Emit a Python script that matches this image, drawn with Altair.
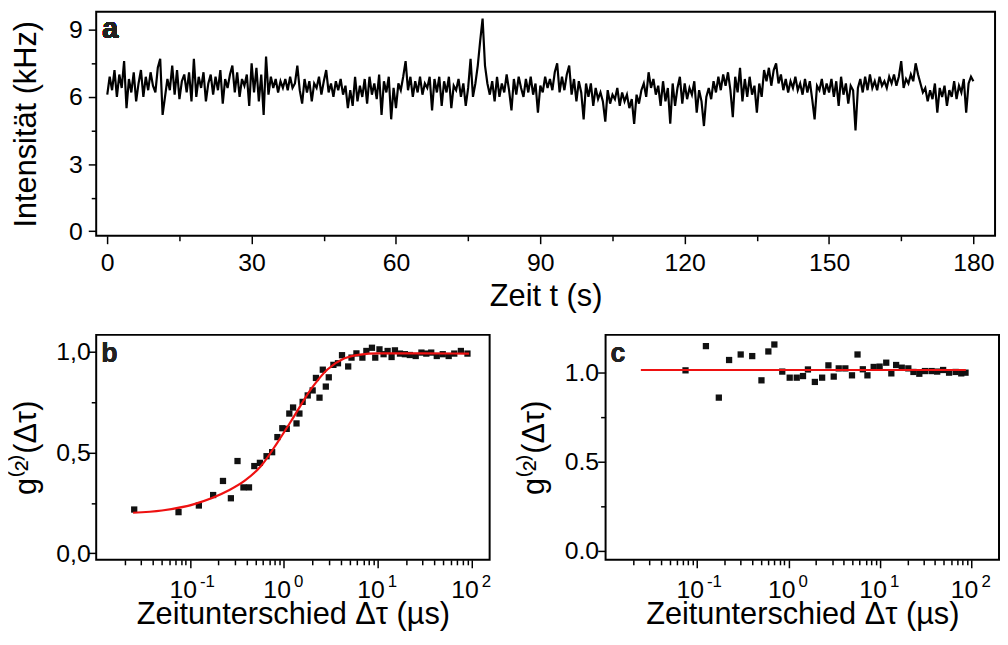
import altair as alt
import pandas as pd

FONT = "Liberation Sans"

# ---------------- Panel a: intensity trace (0.5 s bins) ----------------
intensity = [
    6.1, 6.9, 6.3, 7.2, 6.0, 7.0, 6.4, 7.6, 5.5, 6.8, 6.2, 7.1, 5.8, 6.6, 7.2, 6.0, 6.9, 6.3, 7.1, 6.5,
    6.2, 7.3, 7.7, 5.2, 6.0, 6.8, 6.3, 7.4, 6.1, 7.2, 5.9, 6.7, 7.0, 6.2, 7.1, 5.8, 7.7, 6.0, 6.9, 6.4,
    7.1, 5.8, 6.6, 7.0, 6.1, 6.9, 6.3, 7.2, 5.7, 6.8, 6.4, 7.0, 7.4, 6.2, 7.1, 6.0, 6.8, 6.5, 7.0, 5.6,
    7.5, 6.2, 7.3, 5.8, 7.0, 5.2, 7.8, 6.1, 6.9, 6.4, 6.8, 6.2, 6.7, 6.4, 6.8, 6.3, 6.9, 6.4, 6.6, 7.4,
    6.3, 5.7, 6.8, 6.2, 6.7, 5.8, 6.6, 6.4, 6.9, 6.1, 6.7, 7.2, 6.2, 6.6, 6.0, 6.7, 6.3, 6.8, 6.1, 6.5,
    5.5, 6.3, 5.6, 6.9, 5.8, 6.5, 6.0, 6.8, 5.7, 6.9, 6.1, 6.6, 5.9, 7.0, 5.2, 6.7, 6.2, 6.9, 5.0, 6.4,
    5.5, 6.6, 6.3, 6.9, 7.6, 6.3, 6.9, 6.0, 6.7, 6.2, 6.9, 6.1, 6.6, 6.4, 6.9, 5.4, 6.8, 6.2, 6.9, 5.6,
    6.7, 6.2, 6.9, 5.5, 6.5, 6.3, 6.8, 6.0, 6.6, 5.6, 6.4, 7.7, 6.0, 6.6, 7.4, 8.5, 9.5, 7.4, 6.6, 6.1,
    6.7, 5.8, 6.9, 6.0, 6.6, 6.2, 7.0, 6.3, 5.4, 6.8, 6.1, 6.9, 6.4, 6.0, 6.8, 6.2, 6.9, 6.1, 6.6, 5.3,
    6.5, 6.2, 6.9, 6.4, 6.8, 6.3, 7.1, 7.5, 6.2, 6.9, 6.3, 7.0, 7.4, 6.1, 6.8, 5.8, 6.7, 6.2, 5.0, 6.6,
    6.0, 6.6, 5.6, 6.4, 5.9, 6.2, 5.8, 4.9, 6.3, 5.7, 6.1, 5.9, 6.4, 5.6, 6.2, 5.8, 6.1, 5.5, 5.9, 4.8,
    6.1, 5.7, 6.3, 6.6, 6.0, 7.1, 6.4, 6.8, 6.1, 6.5, 5.6, 6.7, 5.8, 6.4, 4.8, 6.6, 5.6, 6.4, 6.9, 5.7,
    6.6, 5.9, 6.4, 6.1, 6.7, 5.3, 6.3, 5.8, 4.7, 6.0, 6.4, 5.9, 6.7, 6.2, 6.9, 6.3, 7.0, 6.5, 7.1, 6.3,
    5.1, 6.9, 6.2, 7.3, 5.8, 6.8, 6.0, 6.9, 6.1, 6.5, 5.3, 6.6, 6.0, 7.2, 6.7, 7.3, 6.5, 7.2, 7.5, 6.6,
    7.0, 6.3, 6.8, 6.2, 6.7, 6.4, 6.9, 6.3, 6.6, 6.1, 6.8, 6.2, 6.7, 5.9, 5.0, 6.5, 6.3, 6.8, 6.1, 6.6,
    6.2, 6.8, 6.0, 6.7, 5.6, 6.9, 6.1, 6.6, 5.7, 6.5, 6.3, 4.5, 6.4, 6.8, 6.2, 6.9, 6.3, 7.0, 6.4, 6.7,
    6.3, 6.9, 6.5, 6.7, 6.4, 6.9, 6.6, 7.0, 6.5, 6.9, 7.6, 6.4, 6.8, 6.6, 7.0, 6.7, 7.5, 7.0, 6.6, 6.2,
    6.4, 5.8, 6.3, 5.9, 6.6, 5.3, 6.4, 6.0, 6.5, 5.6, 6.3, 6.0, 6.7, 5.9, 6.5, 6.2, 6.8, 5.3, 6.6, 6.9,
    6.7,
]
time_s = [i * 0.5 for i in range(len(intensity))]

a_x_ticks = [0, 15, 30, 45, 60, 75, 90, 105, 120, 135, 150, 165, 180]
a_y_ticks = [0, 1.5, 3, 4.5, 6, 7.5, 9]

# ---------------- Panel b: g2 with antibunching ----------------
b_tau = [0.0254, 0.0753, 0.124, 0.176, 0.224, 0.272, 0.320, 0.370, 0.424, 0.483,
         0.554, 0.652, 0.748, 0.851, 0.960, 1.07, 1.14, 1.25, 1.36, 1.46,
         1.58, 1.79, 2.02, 2.19, 2.39, 2.59, 2.79, 3.0, 3.36, 3.76,
         4.15, 4.83, 5.24, 5.91, 6.84, 7.54, 8.65, 9.38, 10.4, 11.5,
         12.7, 14.0, 15.2, 17.2, 19.4, 21.9, 25.3, 29.1, 32.8, 37.0,
         42.4, 49.1, 56.8, 65.1, 76.6, 90.0]
b_g2 = [0.217, 0.204, 0.237, 0.289, 0.359, 0.273, 0.458, 0.327, 0.327, 0.433,
        0.449, 0.482, 0.502, 0.577, 0.621, 0.618, 0.694, 0.724, 0.645, 0.694,
        0.752, 0.784, 0.809, 0.871, 0.773, 0.912, 0.828, 0.874, 0.936, 0.944,
        0.984, 0.928, 0.972, 0.993, 0.972, 1.005, 1.021, 0.972, 1.013, 0.989,
        1.005, 0.975, 1.008, 0.992, 0.989, 0.985, 0.980, 0.997, 0.992, 0.997,
        0.980, 0.989, 0.980, 0.992, 1.005, 0.992]
b_fit_tau = [0.0247, 0.0501, 0.113, 0.253, 0.379, 0.569, 0.851, 1.28, 1.94, 2.90,
             4.36, 6.52, 9.75, 31.6, 93.8]
b_fit_g2 = [0.201, 0.212, 0.245, 0.310, 0.359, 0.433, 0.550, 0.680, 0.815, 0.913,
            0.967, 0.987, 0.993, 0.993, 0.992]

# ---------------- Panel c: g2 without antibunching ----------------
c_tau = [0.0748, 0.125, 0.173, 0.224, 0.300, 0.401, 0.506, 0.602, 0.700, 0.854,
         1.03, 1.23, 1.44, 1.63, 1.94, 2.33, 2.73, 3.12, 3.54, 4.18,
         4.94, 5.68, 6.49, 7.29, 8.53, 9.91, 11.7, 13.3, 15.0, 17.3,
         20.4, 23.2, 26.9, 31.0, 36.6, 42.2, 49.0, 56.9, 67.2, 77.3, 86.1]
c_g2 = [1.013, 1.149, 0.860, 1.071, 1.102, 1.093, 0.957, 1.119, 1.158, 1.006,
        0.972, 0.972, 0.981, 1.018, 0.948, 0.972, 1.041, 0.978, 1.024, 1.024,
        0.985, 1.102, 1.019, 0.985, 1.032, 1.034, 1.056, 0.996, 1.043, 1.028,
        1.024, 1.004, 0.994, 1.009, 1.009, 1.006, 1.015, 1.000, 1.004, 0.996, 1.000]
c_fit_tau = [0.0243, 86.8]
c_fit_g2 = [1.015, 1.015]

log_ticks = [0.02, 0.03, 0.04, 0.05, 0.06, 0.07, 0.08, 0.09,
             0.1, 0.2, 0.3, 0.4, 0.5, 0.6, 0.7, 0.8, 0.9,
             1, 2, 3, 4, 5, 6, 7, 8, 9,
             10, 20, 30, 40, 50, 60, 70, 80, 90, 100]
decade_values = [0.1, 1, 10, 100]
decade_exponents = ["-1", "0", "1", "2"]
g2_ticks = [0, 0.25, 0.5, 0.75, 1.0]

# ---------------- data frames ----------------
df_a = pd.DataFrame({"t": time_s, "I": intensity})
df_b = pd.DataFrame({"tau": b_tau, "g2": b_g2})
df_bf = pd.DataFrame({"tau": b_fit_tau, "g2": b_fit_g2})
df_c = pd.DataFrame({"tau": c_tau, "g2": c_g2})
df_cf = pd.DataFrame({"tau": c_fit_tau, "g2": c_fit_g2})
df_dec = pd.DataFrame({"tau": decade_values, "exp": decade_exponents})


def tick_size(test):
    return {"condition": {"test": test, "value": 8}, "value": 5}


LOG_MAJOR = "abs(log(datum.value)/LN10 - round(log(datum.value)/LN10)) < 0.000001"
HALF_MAJOR = "abs(datum.value*2 - round(datum.value*2)) < 0.000001"

W_A, H_A = 907, 226
W_B, H_B = 397, 227

AX = dict(grid=False, domain=False, tickColor="black", tickWidth=1.5,
          labelFont=FONT, titleFont=FONT, labelColor="black", titleColor="black",
          titleFontWeight="normal", labelFontWeight="normal")

# ---------------- panel a ----------------
xa = alt.X("t:Q", scale=alt.Scale(domain=[-2.3, 184.5], nice=False, zero=False),
           axis=alt.Axis(values=a_x_ticks, title="Zeit t (s)",
                         labelExpr="datum.value % 30 === 0 ? datum.label : ''",
                         tickSize=tick_size("datum.value % 30 === 0"),
                         labelFontSize=25, labelPadding=7, titleFontSize=31,
                         titlePadding=6, **AX))
ya = alt.Y("I:Q", scale=alt.Scale(domain=[-0.2, 9.8], nice=False, zero=False),
           axis=alt.Axis(values=a_y_ticks, title="Intensität (kHz)",
                         labelExpr="datum.value % 3 === 0 ? datum.label : ''",
                         tickSize=tick_size("datum.value % 3 === 0"),
                         labelFontSize=25, labelPadding=6, titleFontSize=31,
                         titlePadding=26, **AX))
line_a = alt.Chart(df_a).mark_line(color="black", strokeWidth=2.2).encode(x=xa, y=ya)
lab_a = alt.Chart(df_a).mark_text(text="a", font=FONT, fontSize=29, fontWeight="bold",
                                  align="left", baseline="alphabetic", color="#222").encode(
    x=alt.value(6), y=alt.value(26))
panel_a = alt.layer(line_a, lab_a).properties(width=W_A, height=H_A)


# ---------------- panels b / c ----------------
def g2_panel(df_pts, df_fit, xmax, ydom, label, comma, ytitle_pad, ylabel_pad):
    if comma:
        lab_expr = f"({HALF_MAJOR}) ? replace(format(datum.value, '.1f'), '.', ',') : ''"
    else:
        lab_expr = f"({HALF_MAJOR}) ? format(datum.value, '.1f') : ''"
    xs = alt.Scale(type="log", domain=[0.01, xmax], nice=False)
    ys = alt.Scale(domain=ydom, nice=False, zero=False)
    x = alt.X("tau:Q", scale=xs,
              axis=alt.Axis(values=log_ticks, labels=False, tickSize=tick_size(LOG_MAJOR),
                            title="Zeitunterschied Δτ (µs)", titleFontSize=31,
                            titlePadding=32, **AX))
    y = alt.Y("g2:Q", scale=ys,
              axis=alt.Axis(values=g2_ticks, labelExpr=lab_expr,
                            tickSize=tick_size(HALF_MAJOR),
                            labelFontSize=25, labelPadding=ylabel_pad,
                            title="g⁽²⁾(Δτ)", titleFontSize=31,
                            titlePadding=ytitle_pad, **AX))
    pts = alt.Chart(df_pts).mark_square(size=40, color="#111", opacity=1).encode(x=x, y=y)
    fit = alt.Chart(df_fit).mark_line(color="#ee1111", strokeWidth=2.2,
                                      interpolate="monotone").encode(x=x, y=y)
    base10 = alt.Chart(df_dec).mark_text(text="10", font=FONT, fontSize=25, align="right",
                                         baseline="alphabetic", dx=7, color="black").encode(
        x=alt.X("tau:Q", scale=xs), y=alt.value(H_B + 39))
    expo = alt.Chart(df_dec).mark_text(font=FONT, fontSize=17, align="left",
                                       baseline="alphabetic", dx=10, color="black").encode(
        x=alt.X("tau:Q", scale=xs), y=alt.value(H_B + 27), text="exp:N")
    lab = alt.Chart(df_dec).mark_text(text=label, font=FONT, fontSize=27, fontWeight="bold",
                                      align="left", baseline="alphabetic", color="#222").encode(
        x=alt.value(5), y=alt.value(27))
    return alt.layer(pts, fit, base10, expo, lab).properties(width=W_B, height=H_B)


panel_b = g2_panel(df_b, df_bf, 155, [-0.033, 1.085], "b", True, 13, -2)
panel_c = g2_panel(df_c, df_cf, 200, [-0.05, 1.212], "c", False, 14, -1)

chart = alt.vconcat(
    panel_a,
    alt.hconcat(panel_b, panel_c, spacing=25),
    spacing=22,
).properties(
    padding={"left": 2, "top": 0, "right": 0, "bottom": 0},
    background="white",
).configure_view(
    stroke="black", strokeWidth=2
)

chart.save("out.html", embed_options={"renderer": "svg", "actions": False})
